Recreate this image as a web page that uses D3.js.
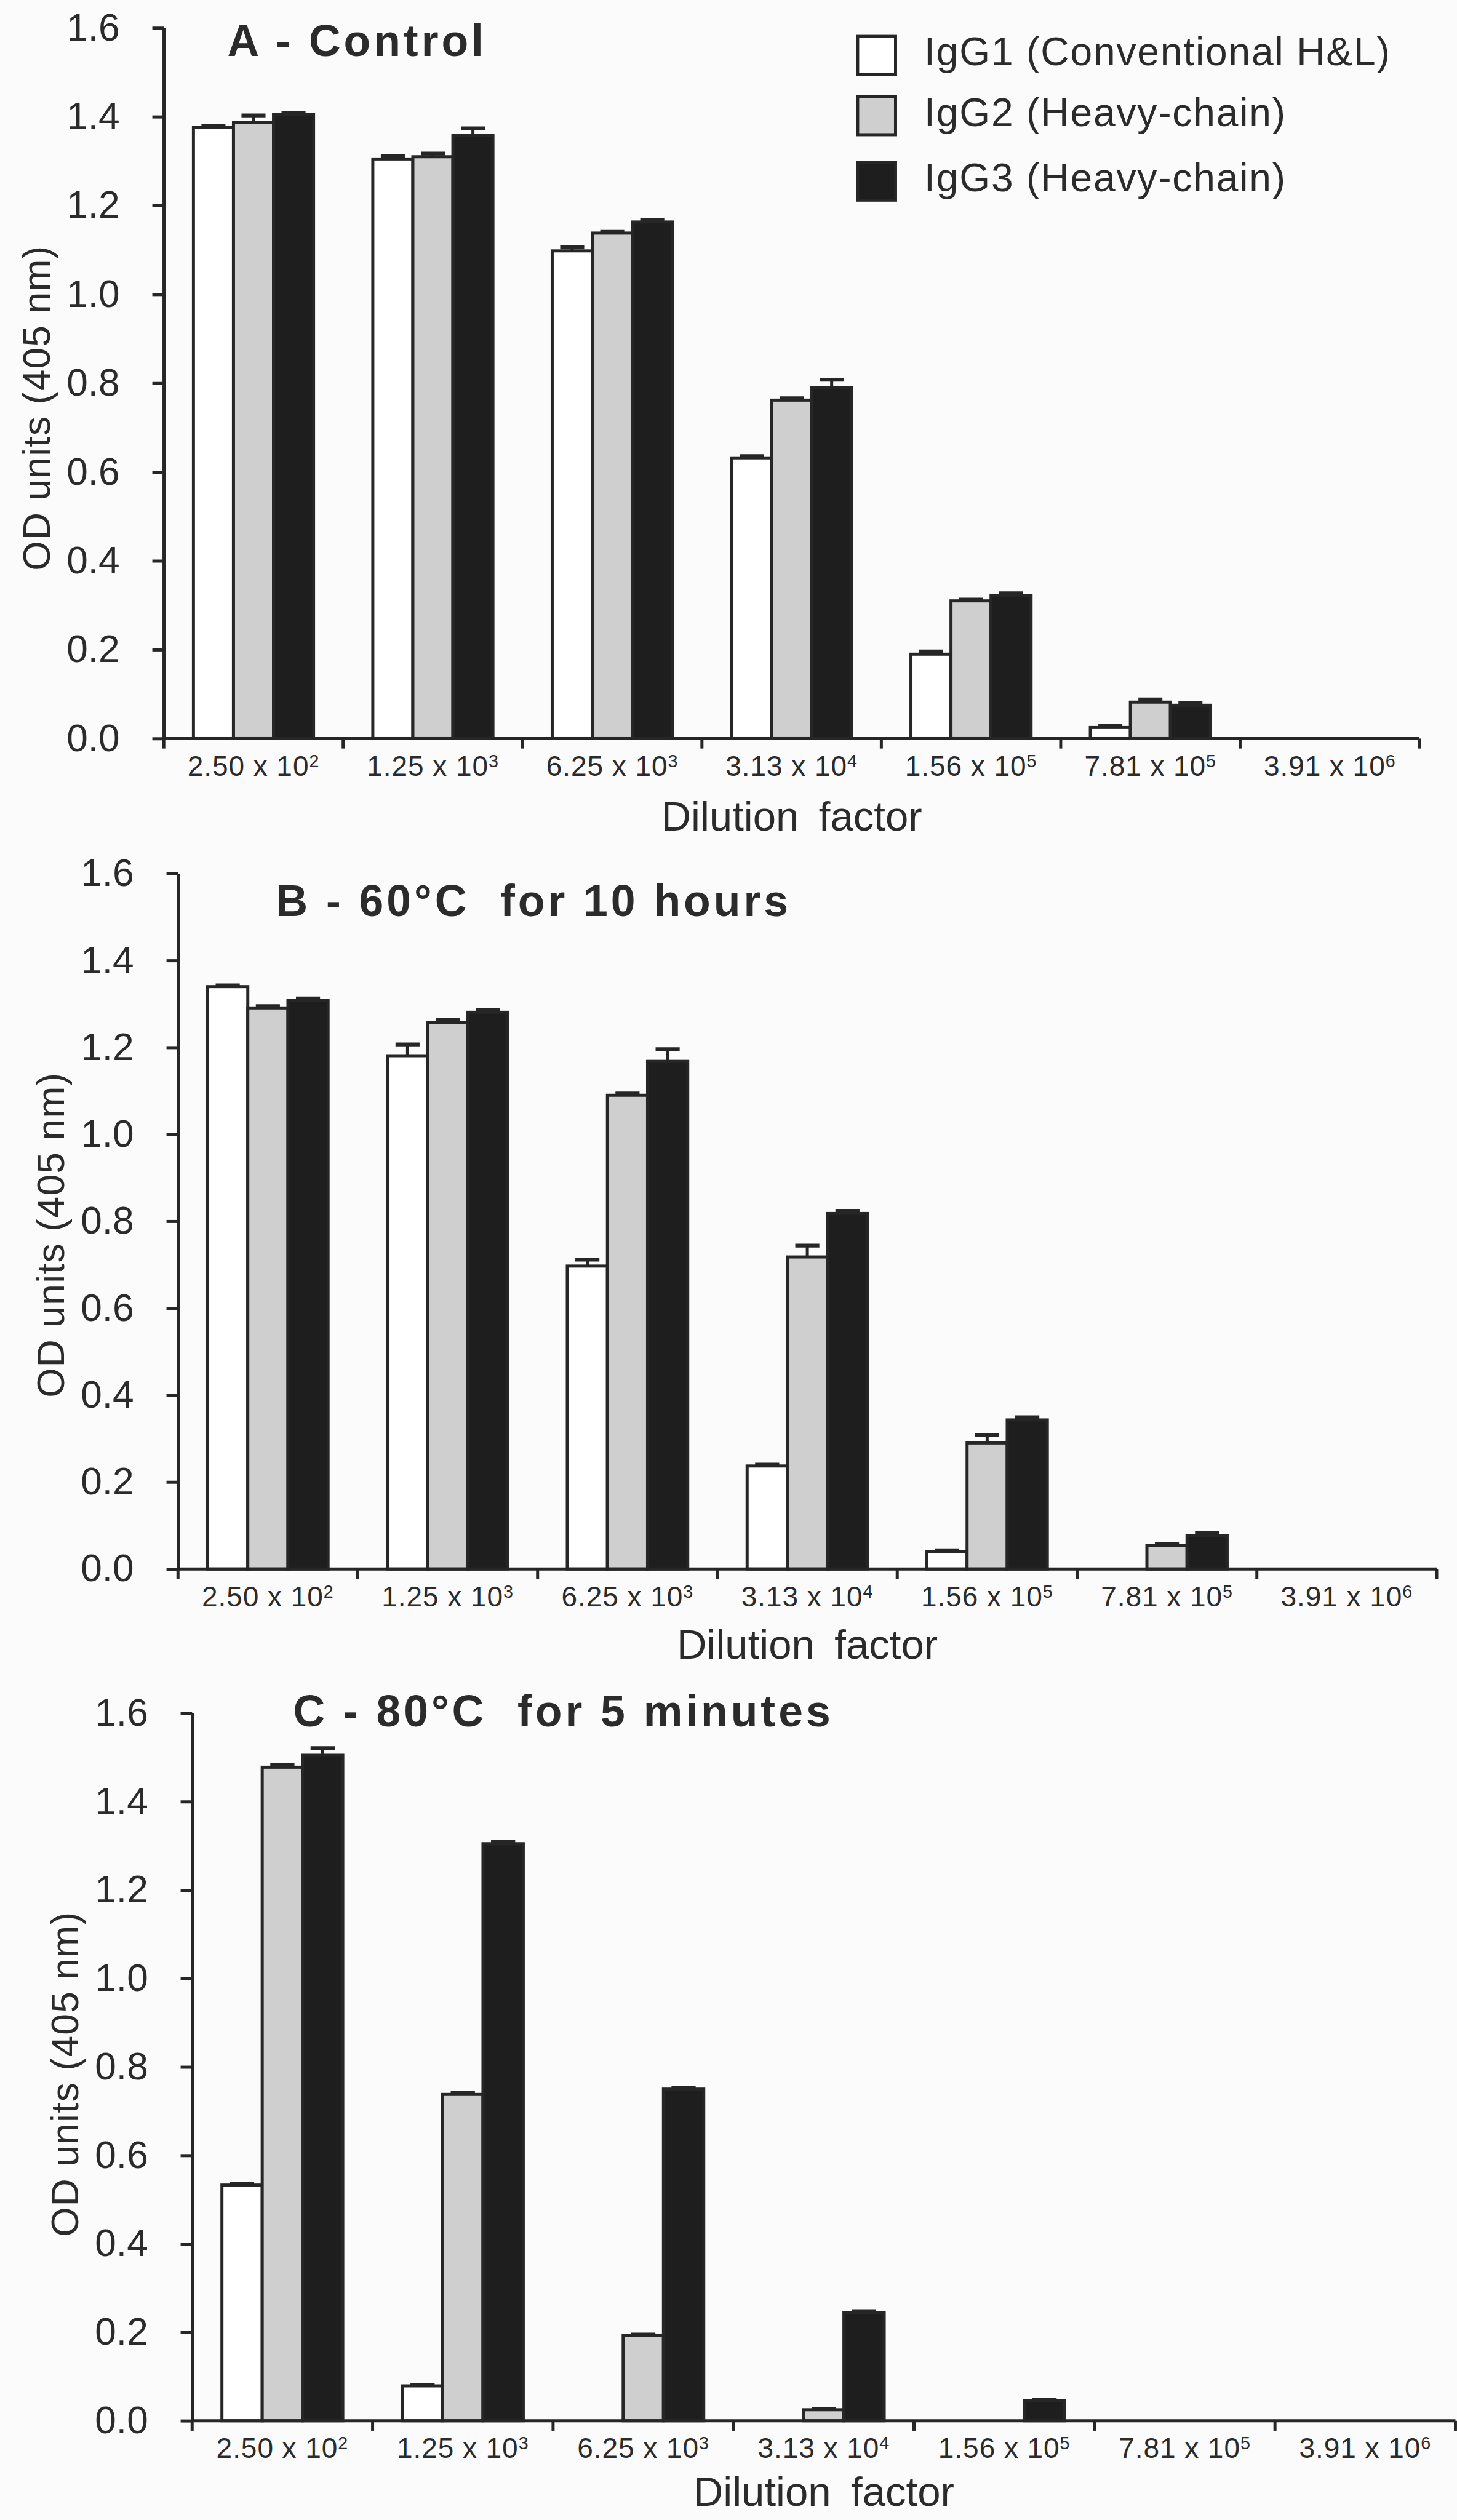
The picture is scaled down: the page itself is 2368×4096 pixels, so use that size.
<!DOCTYPE html>
<html>
<head>
<meta charset="utf-8">
<script src="https://cdn.jsdelivr.net/npm/d3@7"></script>
<style>
  html, body { margin: 0; padding: 0; background: #fbfbfb; }
  svg { display: block; }
  text { font-family: "Liberation Sans", Arial, Helvetica, sans-serif; fill: #2b2b2b; white-space: pre; }
</style>
</head>
<body>
<svg id="chart" width="2368" height="4096"></svg>
<script>
// ---------- data ----------
const dilutionMantissa = ["2.50", "1.25", "6.25", "3.13", "1.56", "7.81", "3.91"];
const dilutionExponent = ["2", "3", "3", "4", "5", "5", "6"];
const seriesNames = ["IgG1 (Conventional H&L)", "IgG2 (Heavy-chain)", "IgG3 (Heavy-chain)"];
const panelTitles = ["A - Control", "B - 60°C  for 10 hours", "C - 80°C  for 5 minutes"];
const yTickValues = [0, 0.2, 0.4, 0.6, 0.8, 1.0, 1.2, 1.4, 1.6];
const xAxisTitle = "Dilution factor";
const yAxisTitle = "OD units (405 nm)";

// Panel A - Control
const controlIgG1 = [1.376, 1.305, 1.098, 0.632, 0.190, 0.025, 0];
const controlIgG2 = [1.387, 1.310, 1.138, 0.762, 0.310, 0.082, 0];
const controlIgG3 = [1.405, 1.358, 1.163, 0.790, 0.322, 0.075, 0];
const controlErrIgG1 = [0.004, 0.006, 0.008, 0.004, 0.006, 0.004, 0];
const controlErrIgG2 = [0.016, 0.007, 0.003, 0.004, 0.003, 0.006, 0];
const controlErrIgG3 = [0.004, 0.016, 0.004, 0.018, 0.005, 0.006, 0];

// Panel B - 60°C for 10 hours
const heat60IgG1 = [1.340, 1.181, 0.697, 0.237, 0.040, 0, 0];
const heat60IgG2 = [1.291, 1.257, 1.090, 0.718, 0.290, 0.054, 0];
const heat60IgG3 = [1.309, 1.281, 1.168, 0.818, 0.343, 0.077, 0];
const heat60ErrIgG1 = [0.003, 0.026, 0.015, 0.003, 0.003, 0, 0];
const heat60ErrIgG2 = [0.004, 0.006, 0.004, 0.026, 0.018, 0.004, 0];
const heat60ErrIgG3 = [0.004, 0.005, 0.028, 0.006, 0.006, 0.006, 0];

// Panel C - 80°C for 5 minutes
const heat80IgG1 = [0.533, 0.079, 0, 0, 0, 0, 0];
const heat80IgG2 = [1.478, 0.738, 0.193, 0.025, 0, 0, 0];
const heat80IgG3 = [1.505, 1.305, 0.750, 0.245, 0.045, 0, 0];
const heat80ErrIgG1 = [0.003, 0.002, 0, 0, 0, 0, 0];
const heat80ErrIgG2 = [0.005, 0.003, 0.002, 0.002, 0, 0, 0];
const heat80ErrIgG3 = [0.016, 0.005, 0.003, 0.003, 0.002, 0, 0];

// ---------- layout (reference pixel units, scaled by S) ----------
const S = 0.622;
const INK = "#262626";
const fills = ["#ffffff", "#cfcfcf", "#1e1e1e"];

const panels = [
  { title: panelTitles[0], vals: [controlIgG1, controlIgG2, controlIgG3], errs: [controlErrIgG1, controlErrIgG2, controlErrIgG3],
    ax: 428, x1: 3709, y0: 1930, yTop: 73, tx: 594, ty: 147, ylabY: 1066, xlabDy: 240, legend: true },
  { title: panelTitles[1], vals: [heat60IgG1, heat60IgG2, heat60IgG3], errs: [heat60ErrIgG1, heat60ErrIgG2, heat60ErrIgG3],
    ax: 465, x1: 3754, y0: 4100, yTop: 2283, tx: 721, ty: 2394, ylabY: 3227, xlabDy: 235, legend: false },
  { title: panelTitles[2], vals: [heat80IgG1, heat80IgG2, heat80IgG3], errs: [heat80ErrIgG1, heat80ErrIgG2, heat80ErrIgG3],
    ax: 502, x1: 3803, y0: 6326, yTop: 4477, tx: 766, ty: 4511, ylabY: 5420, xlabDy: 222, legend: false }
];

const svg = d3.select("#chart");
svg.append("rect").attr("width", 2368).attr("height", 4096).attr("fill", "#fbfbfb");
const root = svg.append("g").attr("transform", `scale(${S})`);

panels.forEach(p => {
  const g = root.append("g");
  const x = d3.scaleBand().domain(d3.range(dilutionMantissa.length)).range([p.ax, p.x1]).paddingInner(0).paddingOuter(0);
  const xs = d3.scaleBand().domain([0, 1, 2]).range([0, x.bandwidth()]).paddingInner(0).paddingOuter(0.74);
  const y = d3.scaleLinear().domain([0, 1.6]).range([p.y0, p.yTop]);
  const bw = xs.bandwidth();

  // bars
  p.vals.forEach((series, s) => {
    const pts = series.map((v, i) => ({ v, i, e: p.errs[s][i] })).filter(d => d.v > 0);
    g.append("g").selectAll("rect").data(pts).join("rect")
      .attr("x", d => x(d.i) + xs(s))
      .attr("y", d => y(d.v))
      .attr("width", bw)
      .attr("height", d => y(0) - y(d.v))
      .attr("fill", fills[s])
      .attr("stroke", INK)
      .attr("stroke-width", 8);
    const eb = g.append("g").selectAll("g").data(pts.filter(d => d.e > 0)).join("g");
    eb.append("line")
      .attr("x1", d => x(d.i) + xs(s) + bw / 2).attr("x2", d => x(d.i) + xs(s) + bw / 2)
      .attr("y1", d => y(d.v)).attr("y2", d => y(d.v + d.e))
      .attr("stroke", INK).attr("stroke-width", 8);
    eb.append("line")
      .attr("x1", d => x(d.i) + xs(s) + bw * 0.2).attr("x2", d => x(d.i) + xs(s) + bw * 0.8)
      .attr("y1", d => y(d.v + d.e)).attr("y2", d => y(d.v + d.e))
      .attr("stroke", INK).attr("stroke-width", 10);
  });

  // y axis
  const yAxis = g.append("g").attr("transform", `translate(${p.ax},0)`)
    .call(d3.axisLeft(y).tickValues(yTickValues).tickFormat(d3.format(".1f"))
      .tickSize(30).tickSizeOuter(0).tickPadding(85));
  yAxis.select(".domain").attr("stroke", INK).attr("stroke-width", 8);
  yAxis.selectAll(".tick line").attr("stroke", INK).attr("stroke-width", 8);
  yAxis.selectAll(".tick text").attr("font-size", 100).attr("fill", "#2b2b2b")
    .attr("font-family", "Liberation Sans, Arial, sans-serif");

  // x axis line + boundary ticks
  g.append("line").attr("x1", p.ax).attr("x2", p.x1).attr("y1", y(0)).attr("y2", y(0))
    .attr("stroke", INK).attr("stroke-width", 8);
  const bounds = d3.range(dilutionMantissa.length + 1).map(i => p.ax + i * x.step());
  g.append("g").selectAll("line").data(bounds).join("line")
    .attr("x1", d => d).attr("x2", d => d)
    .attr("y1", y(0)).attr("y2", y(0) + 26)
    .attr("stroke", INK).attr("stroke-width", 8);

  // x tick labels with superscript exponents
  const lab = g.append("g").selectAll("text").data(d3.range(dilutionMantissa.length)).join("text")
    .attr("x", i => x(i) + x.bandwidth() / 2)
    .attr("y", y(0) + 97)
    .attr("text-anchor", "middle")
    .attr("font-size", 74)
    .attr("letter-spacing", 1.5)
    .attr("fill", "#333");
  lab.append("tspan").text(i => dilutionMantissa[i] + " x 10");
  lab.append("tspan").attr("font-size", 46).attr("dy", -22).text(i => dilutionExponent[i]);

  // axis titles
  g.append("text")
    .attr("x", (p.ax + p.x1) / 2).attr("y", y(0) + p.xlabDy)
    .attr("text-anchor", "middle").attr("font-size", 108).attr("word-spacing", 22)
    .text(xAxisTitle);
  g.append("text")
    .attr("transform", `translate(${p.ax - 298},${p.ylabY}) rotate(-90)`)
    .attr("text-anchor", "middle").attr("font-size", 100).attr("letter-spacing", 2)
    .text(yAxisTitle);

  // panel title
  g.append("text")
    .attr("x", p.tx).attr("y", p.ty)
    .attr("font-size", 115).attr("font-weight", "bold").attr("letter-spacing", 8)
    .text(p.title);

  // legend
  if (p.legend) {
    const rowsY = [144, 302, 473];
    const lg = g.append("g").selectAll("g").data(seriesNames).join("g")
      .attr("transform", (d, i) => `translate(2241,${rowsY[i]})`);
    lg.append("rect").attr("x", 0).attr("y", -49).attr("width", 99).attr("height", 99)
      .attr("fill", (d, i) => fills[i]).attr("stroke", INK).attr("stroke-width", 8);
    lg.append("text").attr("x", 174).attr("y", 27)
      .attr("font-size", 103).attr("letter-spacing", 3)
      .text(d => d);
  }
});
</script>
</body>
</html>
